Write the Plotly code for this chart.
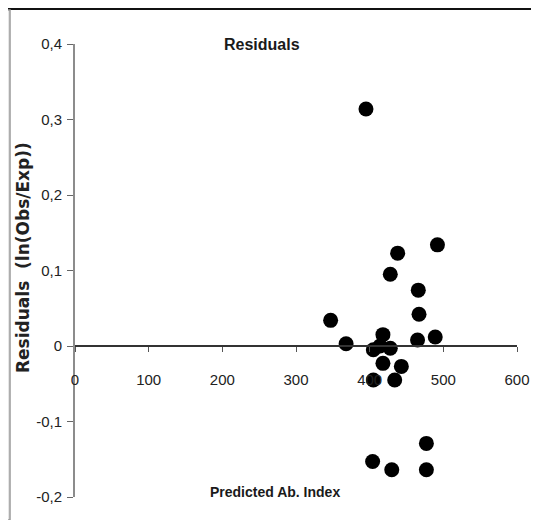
import plotly.graph_objects as go

# ---- data ----
predicted_ab_index = [395, 438, 428, 492, 466, 467, 465, 489, 347, 368, 418,
                      405, 428, 418, 443, 405, 434, 414, 404, 430, 477, 477]
residuals = [0.314, 0.123, 0.095, 0.134, 0.074, 0.042, 0.008, 0.012, 0.034, 0.003, 0.015,
             -0.005, -0.003, -0.023, -0.027, -0.045, -0.045, 0.0, -0.153, -0.164, -0.129, -0.164]

x_tick_vals = [0, 100, 200, 300, 400, 500, 600]
x_tick_text = ["0", "100", "200", "300", "400", "500", "600"]
y_tick_vals = [0.4, 0.3, 0.2, 0.1, 0.0, -0.1, -0.2]
y_tick_text = ["0,4", "0,3", "0,2", "0,1", "0", "-0,1", "-0,2"]

x_range = [0, 600]
y_range = [-0.2, 0.4]

# The page body has a default 8px margin, so the figure is drawn 8px in from the window edge.
PAGE_OFF = 8
WIN_W, WIN_H = 539, 520
W, H = WIN_W - PAGE_OFF, WIN_H - PAGE_OFF

# plot area in window pixel coordinates
PL, PR, PT, PB = 75, 517, 44, 497
ML = PL - PAGE_OFF
MT = PT - PAGE_OFF
MR = W - (PR - PAGE_OFF)
MB = H - (PB - PAGE_OFF)
PW, PH = PR - PL, PB - PT


def px_to_paper_x(px):  # px in window coordinates
    return (px - PL) / PW


def px_to_paper_y(py):  # py in window coordinates
    return (PB - py) / PH


FONT = "Liberation Sans, Arial, sans-serif"
YTITLE_FONT = "DejaVu Sans, Verdana, sans-serif"

fig = go.Figure()
fig.add_trace(go.Scatter(
    x=predicted_ab_index, y=residuals, mode="markers",
    marker=dict(color="black", size=15, line=dict(width=0)),
    cliponaxis=False, showlegend=False,
))

# x axis crosses the y axis at zero
zero_pos = (0 - y_range[0]) / (y_range[1] - y_range[0])

fig.update_layout(
    width=W, height=H,
    margin=dict(l=ML, r=MR, t=MT, b=MB, pad=0, autoexpand=False),
    paper_bgcolor="white", plot_bgcolor="white",
    xaxis=dict(
        range=x_range, tickvals=x_tick_vals, ticktext=x_tick_text,
        showgrid=False, zeroline=False, showline=True, linecolor="#333333", linewidth=1.5,
        ticks="outside", ticklen=5, tickwidth=1, tickcolor="#555555",
        anchor="free", position=zero_pos,
        tickfont=dict(family=FONT, size=15, color="#222222"),
        ticklabelstandoff=15, automargin=False,
    ),
    yaxis=dict(
        range=y_range, tickvals=y_tick_vals, ticktext=y_tick_text,
        showgrid=False, zeroline=False, showline=True, linecolor="#8c8c8c", linewidth=2,
        ticks="outside", ticklen=6, tickwidth=1, tickcolor="#666666",
        tickfont=dict(family=FONT, size=15, color="#222222"),
        ticklabelstandoff=2, automargin=False,
    ),
    annotations=[
        dict(text="<b>Residuals</b>", xref="paper", yref="paper",
             x=px_to_paper_x(262), y=px_to_paper_y(44), xanchor="center", yanchor="middle",
             showarrow=False, font=dict(family=FONT, size=16, color="#1a1a1a")),
        dict(text="<b>Predicted Ab. Index</b>", xref="paper", yref="paper",
             x=px_to_paper_x(275), y=px_to_paper_y(492), xanchor="center", yanchor="middle",
             showarrow=False, font=dict(family=FONT, size=14, color="#1a1a1a")),
        dict(text="<b>Residuals  (ln(Obs/Exp))</b>", xref="paper", yref="paper",
             x=px_to_paper_x(23), y=px_to_paper_y(258), xanchor="center", yanchor="middle",
             textangle=-90, showarrow=False, font=dict(family=YTITLE_FONT, size=17, color="#222222")),
    ],
    shapes=[
        # outer frame pieces
        dict(type="line", xref="paper", yref="paper",
             x0=px_to_paper_x(0), x1=px_to_paper_x(WIN_W), y0=px_to_paper_y(9), y1=px_to_paper_y(9),
             line=dict(color="#111111", width=2)),
        dict(type="rect", xref="paper", yref="paper",
             x0=px_to_paper_x(3), x1=px_to_paper_x(10), y0=px_to_paper_y(10), y1=px_to_paper_y(WIN_H),
             line=dict(color="#9a9a9a", width=1.5), fillcolor="#e6e6e6"),
        dict(type="line", xref="paper", yref="paper",
             x0=px_to_paper_x(533), x1=px_to_paper_x(533), y0=px_to_paper_y(10), y1=px_to_paper_y(WIN_H),
             line=dict(color="#aaaaaa", width=2)),
    ],
)

fig.write_html("out.html")
